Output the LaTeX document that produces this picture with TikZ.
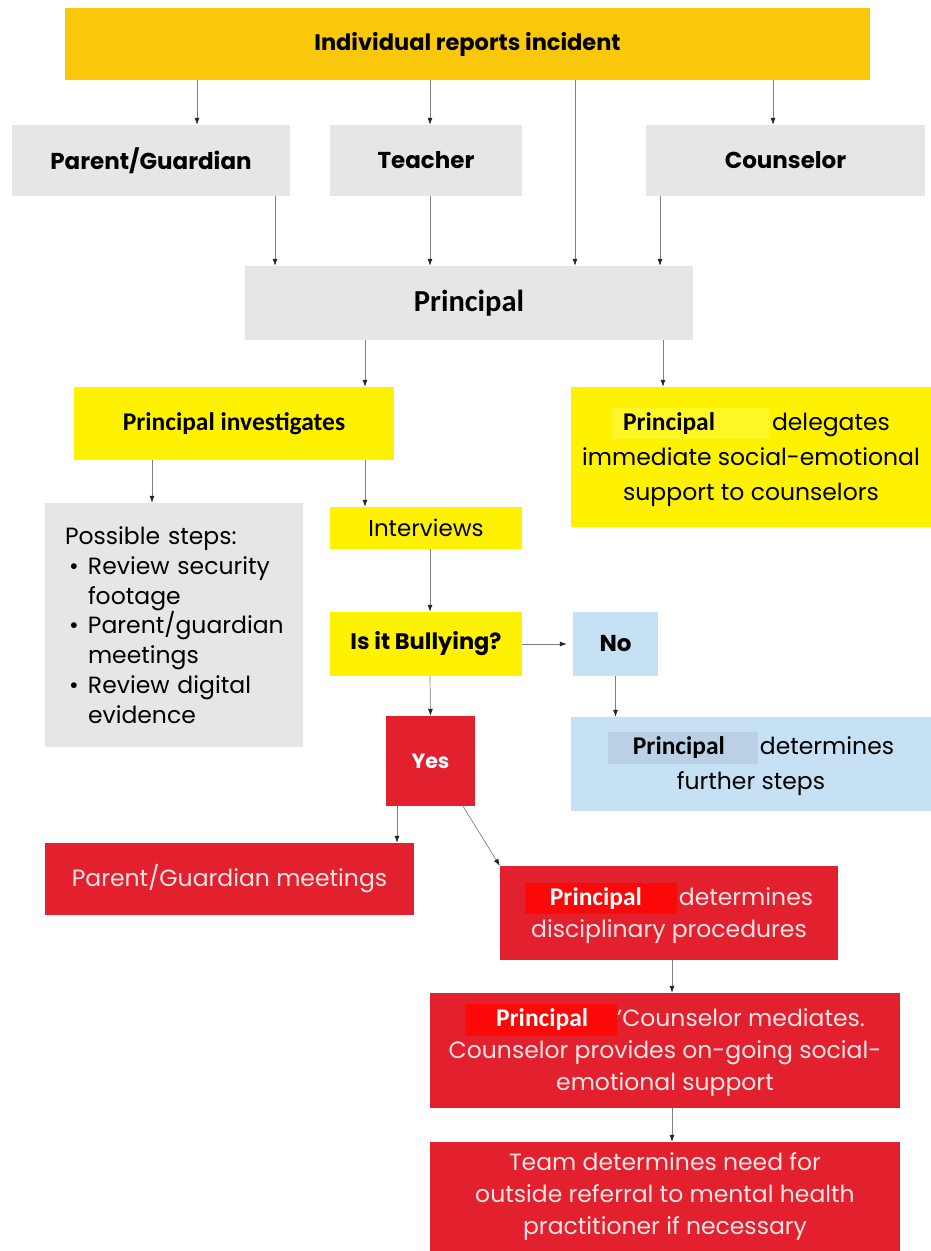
\documentclass[tikz,border=0pt]{standalone}
\usepackage{fontspec}
\setmainfont{Poppins}
\newfontfamily\tagFont{Carlito}
\usetikzlibrary{positioning,arrows.meta}
\definecolor{goldColor}{RGB}{250,200,10}
\definecolor{grayColor}{RGB}{230,230,231}
\definecolor{yellowColor}{RGB}{255,242,0}
\definecolor{blueColor}{RGB}{197,225,243}
\definecolor{redColor}{RGB}{226,32,46}
\definecolor{lineColor}{RGB}{128,128,128}
\definecolor{redText}{RGB}{252,228,228}
\definecolor{tagYellow}{RGB}{255,246,40}
\definecolor{tagBlue}{RGB}{186,208,228}
\definecolor{tagRed}{RGB}{252,8,8}
\tikzstyle{box} = [rectangle, inner sep=0pt, align=center]
\tikzstyle{headBox} = [box, fill=goldColor, font=\bfseries\fontsize{22.5}{27}\selectfont]
\tikzstyle{grayBox} = [box, fill=grayColor, font=\bfseries\fontsize{23}{27}\selectfont]
\tikzstyle{yellowBox} = [box, fill=yellowColor, font=\fontsize{23.5}{35}\selectfont]
\tikzstyle{blueBox} = [box, fill=blueColor, font=\fontsize{23.5}{35}\selectfont]
\tikzstyle{redBox} = [box, fill=redColor, text=redText, font=\fontsize{23.5}{32}\selectfont]
\tikzstyle{flowArrow} = [draw=lineColor, line width=.7pt, -{Latex[length=7pt,width=5pt,color=black!85]}]
\newcommand{\principalTag}[4]{{\setlength{\fboxsep}{5pt}\colorbox{#1}{\makebox[#3][l]{\hspace{#4}\tagFont\bfseries\fontsize{25.5}{28}\selectfont\color{#2}Principal}}}}
\newcommand{\stepItem}[1]{\hspace*{4pt}\makebox[19pt][l]{\textbullet}#1}
\begin{document}
\begin{tikzpicture}[x=1pt, y=-1pt]
  \useasboundingbox (0,0) rectangle (931,1251);
  % row of reporters
  \node [headBox, minimum width=805pt, minimum height=72pt] (report) at (467.5,44) {Individual reports incident};
  \node [grayBox, minimum width=278pt, minimum height=71pt] (parent) at (151,160.5) {Parent/Guardian};
  \node [grayBox, minimum width=192pt, minimum height=71pt] (teacher) at (426,160.5) {Teacher};
  \node [grayBox, minimum width=279pt, minimum height=71pt] (counselor) at (785.5,160.5) {Counselor};
  \node [grayBox, minimum width=448pt, minimum height=74pt, font=\tagFont\bfseries\fontsize{30.5}{34}\selectfont] (principal) at (469,303) {Principal};
  % investigation
  \node [yellowBox, minimum width=320pt, minimum height=73pt] (investigate) at (234,423.5) {{\tagFont\bfseries\fontsize{25.5}{28}\selectfont Principal investigates}};
  \node [yellowBox, minimum width=360pt, minimum height=140pt] (delegate) at (751,457) {\principalTag{tagYellow}{black}{148pt}{6pt}\hspace{2pt}delegates\\immediate social-emotional\\support to counselors};
  \node [box, fill=grayColor, minimum width=258pt, minimum height=244pt, text width=218pt, align=left, font=\fontsize{23.5}{29.8}\selectfont] (steps) at (174,625) {Possible steps:\\\stepItem{Review security}\\\hspace*{23pt}footage\\\stepItem{Parent/guardian}\\\hspace*{23pt}meetings\\\stepItem{Review digital}\\\hspace*{23pt}evidence};
  \node [yellowBox, minimum width=192pt, minimum height=42pt, font=\fontsize{23}{27}\selectfont] (interviews) at (426,528) {Interviews};
  \node [yellowBox, minimum width=192pt, minimum height=64pt, font=\bfseries\fontsize{22.5}{27}\selectfont] (bullying) at (426,644) {Is it Bullying?};
  \node [blueBox, minimum width=85pt, minimum height=64pt, font=\bfseries\fontsize{23}{27}\selectfont] (no) at (615.5,644) {No};
  \node [blueBox, minimum width=360pt, minimum height=94pt] (further) at (751,764) {\principalTag{tagBlue}{black}{140pt}{20pt}\hspace{2pt}determines\\further steps};
  \node [redBox, minimum width=89pt, minimum height=90pt, text=white, font=\bfseries\fontsize{20.5}{25}\selectfont] (yes) at (430.5,761) {Yes};
  % consequences
  \node [redBox, minimum width=369pt, minimum height=72pt] (meetings) at (229.5,879) {Parent/Guardian meetings};
  \node [redBox, minimum width=338pt, minimum height=94pt] (discipline) at (669,913) {\principalTag{tagRed}{white}{142pt}{20pt}\hspace{2pt}determines\\disciplinary procedures};
  \node [redBox, minimum width=470pt, minimum height=115pt] (mediate) at (665,1050.5) {\principalTag{tagRed}{white}{142pt}{26pt}'Counselor mediates.\\Counselor provides on-going social-\\emotional support};
  \node [redBox, minimum width=470pt, minimum height=109pt] (team) at (665,1196.5) {Team determines need for\\outside referral to mental health\\practitioner if necessary};

  \draw [flowArrow] ([xshift=46pt]parent.north |- report.south) -- ([xshift=46pt]parent.north);
  \draw [flowArrow] ([xshift=4pt]teacher.north |- report.south) -- ([xshift=4pt]teacher.north);
  \draw [flowArrow] ([xshift=-12.5pt]counselor.north |- report.south) -- ([xshift=-12.5pt]counselor.north);
  \draw [flowArrow] ([xshift=106pt]principal.north |- report.south) -- ([xshift=106pt]principal.north);
  \draw [flowArrow] ([xshift=124pt]parent.south) -- ([xshift=124pt]parent.south |- principal.north);
  \draw [flowArrow] ([xshift=4pt]teacher.south) -- ([xshift=4pt]teacher.south |- principal.north);
  \draw [flowArrow] ([xshift=-125.5pt]counselor.south) -- ([xshift=-125.5pt]counselor.south |- principal.north);
  \draw [flowArrow] ([xshift=-104pt]principal.south) -- ([xshift=-104pt]principal.south |- investigate.north);
  \draw [flowArrow] ([xshift=194pt]principal.south) -- ([xshift=194pt]principal.south |- delegate.north);
  \draw [flowArrow] ([xshift=-82pt]investigate.south) -- ([xshift=-82pt]investigate.south |- steps.north);
  \draw [flowArrow] ([xshift=131pt]investigate.south) -- ([xshift=131pt]investigate.south |- interviews.north);
  \draw [flowArrow] ([xshift=4pt]interviews.south) -- ([xshift=4pt]bullying.north);
  \draw [flowArrow] (bullying.east) -- ([xshift=-6pt]no.west);
  \draw [flowArrow] (no.south) -- (no.south |- further.north);
  \draw [flowArrow] ([xshift=4pt]bullying.south) -- (yes.north);
  \draw [flowArrow] ([xshift=-33.5pt]yes.south) -- ([xshift=-33.5pt]yes.south |- meetings.north);
  \draw [flowArrow] ([xshift=32.5pt]yes.south) -- (discipline.north west);
  \draw [flowArrow] ([xshift=3pt]discipline.south) -- ([xshift=3pt]discipline.south |- mediate.north);
  \draw [flowArrow] ([xshift=7pt]mediate.south) -- ([xshift=7pt]team.north);
\end{tikzpicture}
\end{document}
